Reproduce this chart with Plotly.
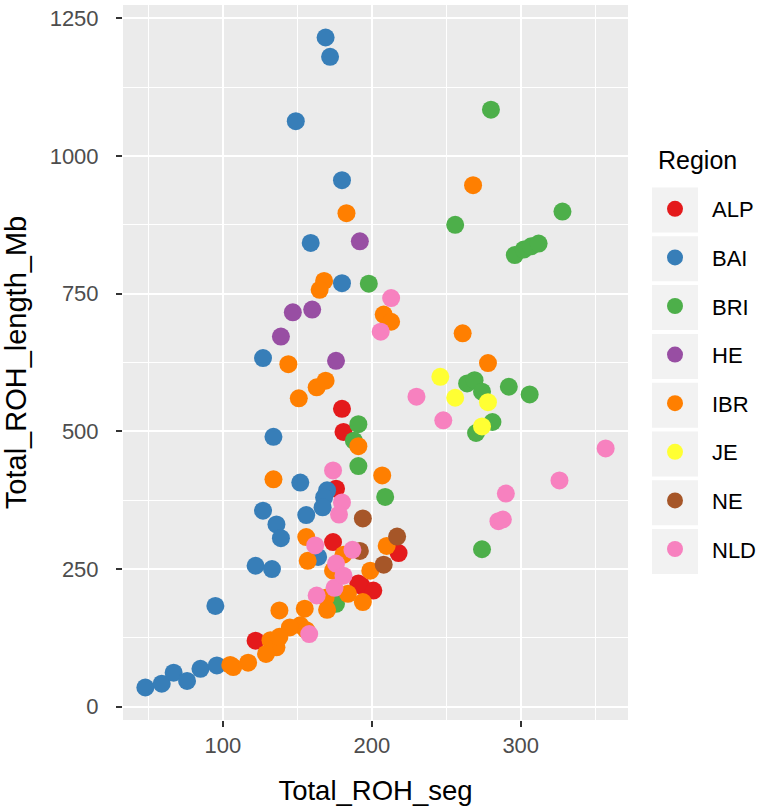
import plotly.graph_objects as go

regions = ["ALP", "BAI", "BRI", "HE", "IBR", "JE", "NE", "NLD"]
colors = ["#E41A1C", "#377EB8", "#4DAF4A", "#984EA3", "#FF7F00", "#FFFF33", "#A65628", "#F781BF"]

ALP_x = [180, 181, 176, 174, 218, 193, 201, 191, 122]
ALP_y = [541, 499, 396, 299, 279, 220, 211, 224, 120]

BAI_x = [169, 172, 149, 180, 159, 180, 127, 134, 152, 170, 168, 167, 127, 136, 139, 156, 122, 133, 164, 95, 48, 59, 67, 76, 85, 96]
BAI_y = [1215, 1180, 1063, 956, 842, 769, 633, 490, 407, 393, 380, 362, 356, 331, 306, 348, 256, 250, 272, 183, 35, 42, 62, 47, 69, 75]

BRI_x = [280, 328, 256, 296, 302, 307, 312, 198, 264, 269, 274, 292, 306, 281, 270, 191, 188, 191, 209, 274, 176]
BRI_y = [1084, 899, 875, 820, 830, 836, 841, 768, 587, 593, 572, 581, 567, 517, 497, 513, 483, 437, 381, 286, 187]

HE_x = [192, 147, 160, 139, 176]
HE_y = [845, 716, 721, 672, 628]

IBR_x = [268, 183, 168, 165, 208, 213, 144, 261, 278, 169, 163, 151, 191, 134, 207, 156, 157, 210, 181, 174,
         199, 194, 184, 169, 170, 155, 152, 156, 145, 138, 132, 136, 129, 138, 117, 107, 105]
IBR_y = [947, 896, 773, 757, 712, 699, 622, 678, 624, 592, 580, 560, 473, 413, 420, 308, 265, 292, 276, 247,
         247, 190, 205, 198, 176, 178, 148, 139, 144, 175, 121, 108, 96, 127, 80, 72, 76]

JE_x = [246, 256, 278, 274]
JE_y = [599, 561, 553, 509]

NE_x = [194, 192, 217, 208]
NE_y = [342, 283, 309, 258]

NLD_x = [213, 206, 230, 248, 357, 326, 174, 290, 285, 288, 180, 178, 162, 187, 176, 175, 163, 181, 158]
NLD_y = [742, 681, 563, 520, 469, 411, 429, 387, 337, 340, 371, 349, 293, 285, 260, 216, 202, 238, 132]

series_x = [ALP_x, BAI_x, BRI_x, HE_x, IBR_x, JE_x, NE_x, NLD_x]
series_y = [ALP_y, BAI_y, BRI_y, HE_y, IBR_y, JE_y, NE_y, NLD_y]

x_ticks = [100, 200, 300]
y_ticks = [0, 250, 500, 750, 1000, 1250]

FONT = "Liberation Sans, Arial, sans-serif"

fig = go.Figure()
for name, col, xs, ys in zip(regions, colors, series_x, series_y):
    fig.add_trace(go.Scatter(
        x=xs, y=ys, mode="markers", name=name, legendgroup=name,
        marker=dict(color=col, size=18, line=dict(width=0)),
    ))

W, H = 760, 806
L, R, T, B = 123, 132, 5, 86
pw, ph = W - L - R, H - T - B

def px_x(p):
    return (p - L) / pw

def px_y(p):
    return 1 - (p - T) / ph

shapes = []
for i in range(len(regions)):
    cy = 210 + i * 48.8
    shapes.append(dict(type="rect", xref="paper", yref="paper",
                       x0=px_x(652), x1=px_x(698), y0=px_y(cy + 22.5), y1=px_y(cy - 22.5),
                       fillcolor="#F2F2F2", line=dict(width=0), layer="below"))

fig.update_layout(
    width=W, height=H,
    margin=dict(l=L, r=R, t=T, b=B, pad=0, autoexpand=False),
    paper_bgcolor="white",
    plot_bgcolor="#EBEBEB",
    font=dict(family=FONT, color="#000000"),
    shapes=shapes,
    annotations=[dict(text="Region", xref="paper", yref="paper",
                      x=px_x(656), y=px_y(160), xanchor="left", yanchor="middle",
                      showarrow=False, font=dict(size=25, color="#000000"))],
    legend=dict(
        font=dict(size=22, color="#000000"),
        x=px_x(638), xanchor="left",
        y=px_y(188), yanchor="top",
        bgcolor="rgba(0,0,0,0)",
        tracegroupgap=17,
        itemsizing="trace",
        itemwidth=64,
    ),
    xaxis=dict(
        range=[33, 372], tickvals=x_ticks, ticktext=[str(v) for v in x_ticks],
        showgrid=True, gridcolor="white", gridwidth=2.2,
        minor=dict(dtick=50, tick0=0, showgrid=True, gridcolor="white", gridwidth=1.1, ticks=""),
        zeroline=False, showline=False,
        ticks="outside", ticklen=6, tickwidth=1.6, tickcolor="#333333",
        tickfont=dict(size=22, color="#4D4D4D"),
        title=dict(text="Total_ROH_seg", font=dict(size=27.5, color="#000000"), standoff=23),
    ),
    yaxis=dict(
        range=[-24, 1274], tickvals=y_ticks, ticktext=[str(v) for v in y_ticks],
        showgrid=True, gridcolor="white", gridwidth=2.2,
        minor=dict(dtick=125, tick0=0, showgrid=True, gridcolor="white", gridwidth=1.1, ticks=""),
        zeroline=False, showline=False,
        ticks="outside", ticklen=6, tickwidth=1.6, tickcolor="#333333",
        tickfont=dict(size=22, color="#4D4D4D"),
        ticklabelstandoff=13,
        title=dict(text="Total_ROH_length_Mb", font=dict(size=29, color="#000000"), standoff=17),
    ),
)

fig.write_html("out.html", config={"displayModeBar": False},
               post_script="document.body.style.margin='0';")
